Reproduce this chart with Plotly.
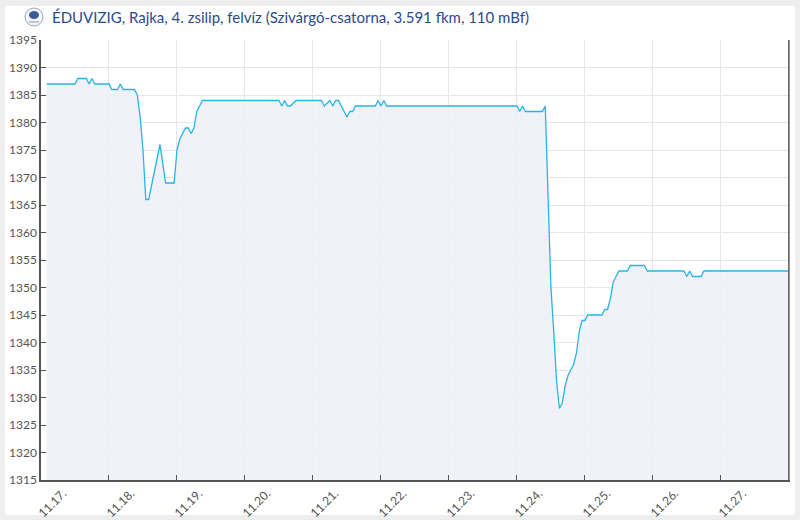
import pandas as pd
import plotly.graph_objects as go

TITLE = "ÉDUVIZIG, Rajka, 4. zsilip, felvíz (Szivárgó-csatorna, 3.591 fkm, 110 mBf)"
START = pd.Timestamp("2024-11-17 00:00")

# hours after 11.17. 00:00, water level (cm)
hours = [2, 12, 13, 16, 17, 18, 19, 24, 25, 27, 28, 29, 33, 34, 35, 36, 37, 38,
         42, 44, 47, 48, 49, 51, 52, 53, 54, 55, 56, 57,
         84, 85, 86, 87, 88, 90, 99, 100, 102, 103, 104, 105, 108, 109, 110, 111,
         118, 119, 120, 121, 122,
         168, 169, 170, 171, 177, 178, 179, 180, 181, 182, 183, 184, 185, 186, 187,
         188, 189, 190, 191, 192, 193, 198, 199, 200, 201, 202, 203, 204, 207, 208,
         213, 214, 227, 228, 229, 230, 233, 234, 264]
level = [1387, 1387, 1388, 1388, 1387, 1388, 1387, 1387, 1386, 1386, 1387, 1386, 1386, 1385, 1381, 1375, 1366, 1366,
         1376, 1369, 1369, 1375, 1377, 1379, 1379, 1378, 1379, 1382, 1383, 1384,
         1384, 1383, 1384, 1383, 1383, 1384, 1384, 1383, 1384, 1383, 1384, 1384, 1381, 1382, 1382, 1383,
         1383, 1384, 1383, 1384, 1383,
         1383, 1382, 1383, 1382, 1382, 1383, 1367, 1350, 1342, 1333, 1328, 1329, 1332, 1334, 1335,
         1336, 1338, 1342, 1344, 1344, 1345, 1345, 1346, 1346, 1348, 1351, 1352, 1353, 1353, 1354,
         1354, 1353, 1353, 1352, 1353, 1352, 1352, 1353, 1353]

day_ticks = pd.date_range("2024-11-17", "2024-11-27", freq="D")

times = START + pd.to_timedelta(hours, unit="h")

W, H = 800, 520
ML, MR, MT, MB = 41, 10, 40, 40
PW, PH = W - ML - MR, H - MT - MB


def px(x):
    return (x - ML) / PW


def py(y):
    return (H - MB - y) / PH


fig = go.Figure()

fig.add_trace(go.Scatter(
    x=times, y=level,
    mode="lines",
    line=dict(color="#27b4e6", width=1.3),
    fill="tozeroy",
    fillcolor="rgba(238,240,246,0.85)",
    hoverinfo="x+y",
    showlegend=False,
))

shapes = [
    # white panel on grey page
    dict(type="rect", xref="paper", yref="paper", layer="below",
         x0=px(5), x1=px(795), y0=py(515), y1=py(6),
         fillcolor="white", line=dict(width=0)),
    # "now" marker at last reading
    dict(type="line", xref="x", yref="paper",
         x0=times[-1], x1=times[-1], y0=0, y1=1,
         line=dict(color="#555555", width=1.5)),
    # logo
    dict(type="circle", xref="paper", yref="paper",
         x0=px(25), x1=px(43), y0=py(26), y1=py(8),
         fillcolor="#f4f6fa", line=dict(color="#9aa6b8", width=1)),
    dict(type="circle", xref="paper", yref="paper",
         x0=px(29), x1=px(39), y0=py(19), y1=py(11),
         fillcolor="#3a5a98", line=dict(width=0)),
    dict(type="line", xref="paper", yref="paper",
         x0=px(29), x1=px(39), y0=py(22), y1=py(22),
         line=dict(color="#8c96a8", width=1)),
]

fig.add_annotation(
    xref="paper", yref="paper", x=px(50), y=py(17),
    xanchor="left", yanchor="middle", showarrow=False,
    text=TITLE, font=dict(family="Lato, sans-serif", size=15, color="#2a4a8c"),
)

fig.update_layout(
    width=W, height=H,
    margin=dict(l=ML, r=MR, t=MT, b=MB),
    paper_bgcolor="#eeeeee",
    plot_bgcolor="white",
    font=dict(family="Lato, sans-serif", size=12, color="#555555"),
    shapes=shapes,
    xaxis=dict(
        range=[START, START + pd.Timedelta(hours=264.4)],
        tickvals=day_ticks,
        ticktext=[d.strftime("%m.%d.") for d in day_ticks],
        tickangle=-45,
        ticks="inside", ticklen=5, tickcolor="#555555",
        ticklabelshift=22, ticklabelstandoff=0,
        showline=True, linecolor="#555555", linewidth=1.5,
        showgrid=True, gridcolor="#e6e6e6", gridwidth=1,
        zeroline=False, automargin=False,
        tickfont=dict(size=12, color="#555555"),
    ),
    yaxis=dict(
        range=[1315, 1395],
        dtick=5,
        ticks="inside", ticklen=5, tickcolor="#555555",
        showline=True, linecolor="#555555", linewidth=1.5,
        showgrid=True, gridcolor="#e6e6e6", gridwidth=1,
        zeroline=False, automargin=False,
        tickfont=dict(size=12, color="#555555"),
    ),
)

fig.write_html(
    "out.html",
    config={"displayModeBar": False},
    post_script="document.body.style.margin = '0';",
)
